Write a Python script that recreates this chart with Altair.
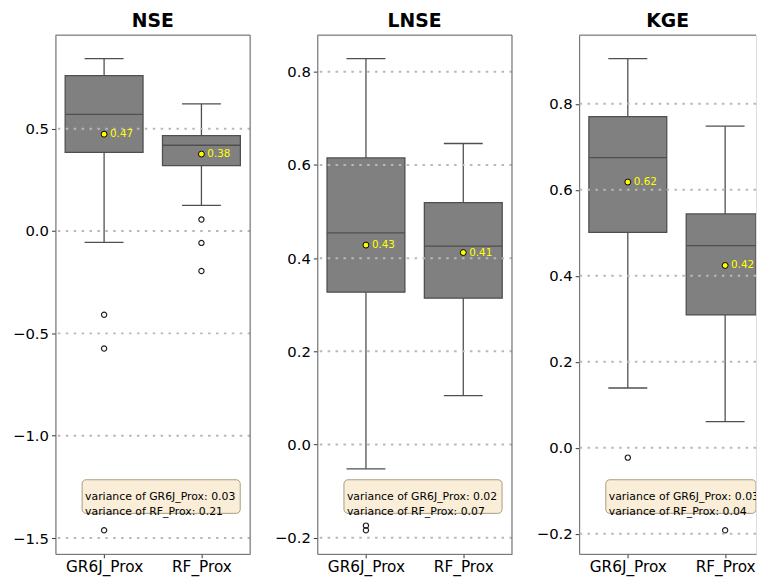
import altair as alt
import pandas as pd

metrics = ["NSE", "LNSE", "KGE"]
models = ["GR6J_Prox", "RF_Prox"]
positions = [1, 2]

# values per metric, ordered [GR6J_Prox, RF_Prox]
whisker_low = {"NSE": [-0.055, 0.125], "LNSE": [-0.052, 0.105], "KGE": [0.139, 0.061]}
quart1 = {"NSE": [0.384, 0.320], "LNSE": [0.327, 0.314], "KGE": [0.501, 0.309]}
median = {"NSE": [0.570, 0.419], "LNSE": [0.454, 0.426], "KGE": [0.675, 0.470]}
quart3 = {"NSE": [0.759, 0.466], "LNSE": [0.615, 0.519], "KGE": [0.770, 0.544]}
whisker_high = {"NSE": [0.842, 0.621], "LNSE": [0.828, 0.646], "KGE": [0.905, 0.748]}
means = {"NSE": [0.473, 0.376], "LNSE": [0.428, 0.412], "KGE": [0.618, 0.424]}
outliers = {
    "NSE": [[-0.409, -0.574, -1.462], [0.056, -0.058, -0.195]],
    "LNSE": [[-0.174, -0.184], []],
    "KGE": [[-0.023], [-0.192]],
}
variances = {"NSE": [0.03, 0.21], "LNSE": [0.02, 0.07], "KGE": [0.03, 0.04]}
y_ticks = {
    "NSE": [-1.5, -1.0, -0.5, 0.0, 0.5],
    "LNSE": [-0.2, 0.0, 0.2, 0.4, 0.6, 0.8],
    "KGE": [-0.2, 0.0, 0.2, 0.4, 0.6, 0.8],
}

FONT = "DejaVu Sans"
FRAME = "#666666"
EDGE = "#4f4f4f"
BOXFILL = "#808080"
W, H = 197, 525
W_LAST = 179

label_expr = " : ".join(
    [f"datum.value == {p} ? '{m}'" for p, m in zip(positions[:-1], models[:-1])]
    + [f"'{models[-1]}'"]
)
ylabel_expr = "replace(format(datum.value, '.1f'), '-', '\u2212')"


def panel(m, width):
    rows = []
    for i, (p, name) in enumerate(zip(positions, models)):
        rows.append(dict(model=name, pos=p, lo=whisker_low[m][i], q1=quart1[m][i],
                         med=median[m][i], q3=quart3[m][i], hi=whisker_high[m][i],
                         mean=means[m][i], meanlabel=f"{means[m][i]:.2f}"))
    box_df = pd.DataFrame(rows)
    out_df = pd.DataFrame([dict(pos=p, v=v) for p, vals in zip(positions, outliers[m]) for v in vals])
    allv = list(box_df.lo) + list(box_df.hi) + list(out_df.v)
    lo, hi = min(allv), max(allv)
    margin = 0.05 * (hi - lo)
    ys = alt.Scale(domain=[lo - margin, hi + margin], nice=False, zero=False)
    xmax = 0.5 + 2.0 * width / W
    xs = alt.Scale(domain=[0.5, xmax], nice=False, zero=False)

    xaxis = alt.Axis(values=positions, labelExpr=label_expr, title=None, grid=False,
                     labelFontSize=15.5, labelColor="black", labelFont=FONT, labelAngle=0,
                     tickColor="#333333", tickSize=4, labelPadding=2, domainColor=FRAME,
                     labelFlush=False, labelOverlap=False)
    yaxis = alt.Axis(values=y_ticks[m], labelExpr=ylabel_expr, title=None, grid=False,
                     labelFontSize=15, labelColor="black", labelFont=FONT,
                     tickColor="#333333", tickSize=4, labelPadding=3, domainColor=FRAME,
                     minExtent=44, maxExtent=44, labelFlush=False, labelOverlap=False)

    def X(f):
        return alt.X(f, scale=xs, axis=xaxis, title=None)

    def Y(f):
        return alt.Y(f, scale=ys, axis=yaxis, title=None)

    b = alt.Chart(box_df).transform_calculate(
        x0="datum.pos - 0.4", x1=f"min(datum.pos + 0.4, {xmax})",
        c0="datum.pos - 0.2", c1=f"min(datum.pos + 0.2, {xmax})")

    w_lo = b.mark_rule(color=EDGE, strokeWidth=1.3, clip=True).encode(
        x=X("pos:Q"), y=Y("lo:Q"), y2="q1:Q")
    w_hi = b.mark_rule(color=EDGE, strokeWidth=1.3, clip=True).encode(
        x=X("pos:Q"), y=Y("q3:Q"), y2="hi:Q")
    cap_lo = b.mark_rule(color=EDGE, strokeWidth=1.3, clip=True).encode(
        x=X("c0:Q"), x2="c1:Q", y=Y("lo:Q"))
    cap_hi = b.mark_rule(color=EDGE, strokeWidth=1.3, clip=True).encode(
        x=X("c0:Q"), x2="c1:Q", y=Y("hi:Q"))
    box = b.mark_rect(fill=BOXFILL, stroke=EDGE, strokeWidth=1.3, clip=True).encode(
        x=X("x0:Q"), x2="x1:Q", y=Y("q1:Q"), y2="q3:Q")
    med = b.mark_rule(color=EDGE, strokeWidth=1.3, clip=True).encode(
        x=X("x0:Q"), x2="x1:Q", y=Y("med:Q"))
    layers = [w_lo, w_hi, cap_lo, cap_hi, box, med]
    if len(out_df):
        pts = alt.Chart(out_df).mark_point(shape="circle", filled=False, color="#222222",
                                           size=28, strokeWidth=1.2, opacity=1,
                                           clip=True).encode(
            x=X("pos:Q"), y=Y("v:Q"))
        layers.append(pts)
    grid = alt.Chart(pd.DataFrame({"t": y_ticks[m]})).mark_rule(
        color="#b8b8b8", strokeWidth=2, strokeDash=[2.5, 5.5]).encode(y=Y("t:Q"))
    layers.append(grid)
    mean_pt = b.mark_circle(color="#ffff00", stroke="black", strokeWidth=1, size=36,
                            opacity=1, clip=True).encode(x=X("pos:Q"), y=Y("mean:Q"))
    mean_txt = b.mark_text(color="#ffff00", fontSize=10.5, font=FONT, align="left",
                           baseline="middle", dx=6, clip=True).encode(
        x=X("pos:Q"), y=Y("mean:Q"), text="meanlabel:N")
    layers += [mean_pt, mean_txt]

    one = pd.DataFrame({"t": [f"variance of {models[0]}: {variances[m][0]:.2f}\n"
                              f"variance of {models[1]}: {variances[m][1]:.2f}"]})
    tbox = alt.Chart(one).mark_rect(fill="#f5deb3", fillOpacity=0.5, stroke="#a89a80",
                                    strokeWidth=1, cornerRadius=4, clip=True).encode(
        x=alt.value(27), x2=alt.value(min(187, width)),
        y=alt.value(H - 75), y2=alt.value(H - 41))
    ttxt = alt.Chart(one).mark_text(align="left", baseline="middle", fontSize=11, font=FONT,
                                    lineHeight=16, lineBreak="\n", color="black",
                                    clip=True).encode(
        x=alt.value(30), y=alt.value(H - 58), text="t:N")
    layers += [tbox, ttxt]

    top = alt.Chart(one).mark_rule(color=FRAME, strokeWidth=1).encode(
        x=alt.value(0), x2=alt.value(width), y=alt.value(0))
    layers.append(top)
    if width == W:
        right = alt.Chart(one).mark_rule(color=FRAME, strokeWidth=1).encode(
            x=alt.value(width), y=alt.value(0), y2=alt.value(H))
        layers.append(right)

    return alt.layer(*layers).properties(
        width=width, height=H,
        title=alt.TitleParams(text=m, fontSize=19, fontWeight="bold", font=FONT,
                              anchor="middle", offset=4, color="black"))


panels = [panel(m, W if i < 2 else W_LAST) for i, m in enumerate(metrics)]
chart = alt.hconcat(*panels, spacing=21).properties(
    padding={"left": 3, "top": 0, "right": 0, "bottom": 0}
).configure_view(stroke=None).configure(font=FONT)

chart.save("out.html", embed_options={"renderer": "svg", "actions": False})
